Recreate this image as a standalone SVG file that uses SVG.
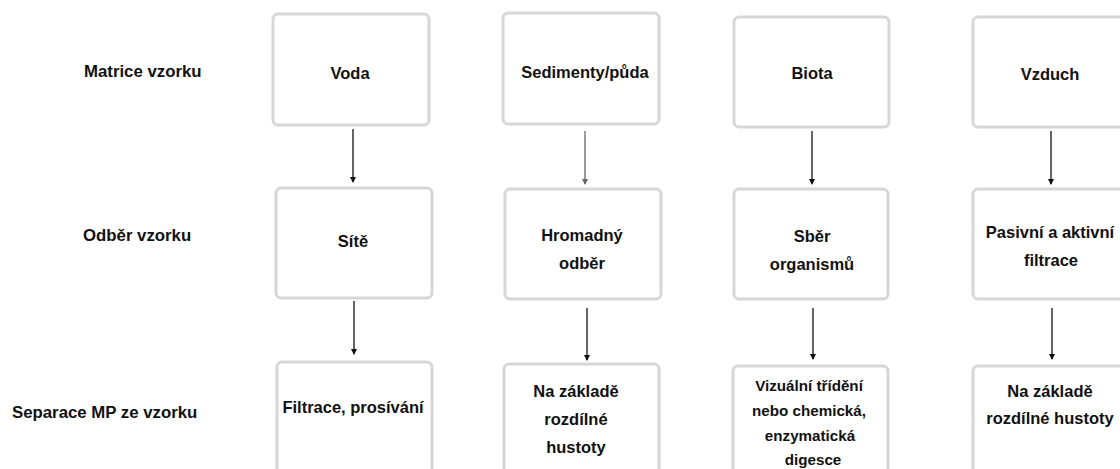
<svg xmlns="http://www.w3.org/2000/svg" width="1120" height="469" viewBox="0 0 1120 469">
<style>
.box{fill:#fff;stroke:#d7d7d7;stroke-width:3}
.t{font-family:"Liberation Sans",Arial,sans-serif;font-weight:bold;font-size:16.5px;fill:#111;text-anchor:middle}
.s{font-size:15.2px}
.lab{font-family:"Liberation Sans",Arial,sans-serif;font-weight:bold;font-size:16.8px;fill:#111}
.c{stroke:#111;stroke-width:1.3;fill:none;marker-end:url(#ah)}
.g{stroke:#666;marker-end:url(#ahg)}
</style>
<defs>
<marker id="ah" markerWidth="6" markerHeight="6" refX="5" refY="3" orient="auto" markerUnits="userSpaceOnUse"><path d="M0,0 L6,3 L0,6 Z" fill="#111"/></marker>
<marker id="ahg" markerWidth="6" markerHeight="6" refX="5" refY="3" orient="auto" markerUnits="userSpaceOnUse"><path d="M0,0 L6,3 L0,6 Z" fill="#666"/></marker>
</defs>
<rect width="1120" height="469" fill="#fff"/>
<g id="row-labels">
<text class="lab" x="84" y="77">Matrice vzorku</text>
<text class="lab" x="83" y="241">Odběr vzorku</text>
<text class="lab" x="12" y="418">Separace MP ze vzorku</text>
</g>
<g id="voda"><rect class="box" x="273" y="14" width="156" height="111" rx="5"/><text class="t" x="350" y="79">Voda</text></g>
<g id="sedimenty"><rect class="box" x="503" y="13" width="156" height="111" rx="5"/><text class="t" x="585" y="78">Sedimenty/půda</text></g>
<g id="biota"><rect class="box" x="734" y="17" width="155" height="110" rx="5"/><text class="t" x="812" y="79">Biota</text></g>
<g id="vzduch"><rect class="box" x="973" y="17" width="155" height="110" rx="5"/><text class="t" x="1050" y="80">Vzduch</text></g>
<g id="site"><rect class="box" x="276" y="188" width="156" height="110" rx="5"/><text class="t" x="353" y="247">Sítě</text></g>
<g id="hromadny"><rect class="box" x="505" y="189" width="156" height="110" rx="5"/><text class="t" x="582" y="241">Hromadný</text><text class="t" x="582" y="269">odběr</text></g>
<g id="sber"><rect class="box" x="734" y="189" width="154" height="110" rx="5"/><text class="t" x="812" y="242">Sběr</text><text class="t" x="812" y="270">organismů</text></g>
<g id="pasivni"><rect class="box" x="973" y="189" width="155" height="110" rx="5"/><text class="t" x="1050" y="238">Pasivní a aktivní</text><text class="t" x="1051" y="266">filtrace</text></g>
<g id="filtrace"><rect class="box" x="277" y="362" width="155" height="120" rx="5"/><text class="t" x="353" y="413">Filtrace, prosívání</text></g>
<g id="hustota1"><rect class="box" x="504" y="364" width="155" height="120" rx="5"/><text class="t" x="576" y="397">Na základě</text><text class="t" x="576" y="425">rozdílné</text><text class="t" x="576" y="453">hustoty</text></g>
<g id="vizualni"><rect class="box" x="733" y="366" width="155" height="120" rx="5"/><text class="t s" x="809" y="391">Vizuální třídění</text><text class="t s" x="809" y="416">nebo chemická,</text><text class="t s" x="810" y="441">enzymatická</text><text class="t s" x="813" y="465">digesce</text></g>
<g id="hustota2"><rect class="box" x="973" y="366" width="155" height="120" rx="5"/><text class="t" x="1050" y="397">Na základě</text><text class="t" x="1050" y="424">rozdílné hustoty</text></g>
<g id="connectors">
<line class="c" x1="353" y1="129" x2="353" y2="182"/>
<line class="c g" x1="585" y1="131" x2="585" y2="184"/>
<line class="c" x1="812" y1="131" x2="812" y2="184"/>
<line class="c" x1="1051" y1="131" x2="1051" y2="184"/>
<line class="c" x1="354" y1="301" x2="354" y2="354"/>
<line class="c" x1="587" y1="308" x2="587" y2="360"/>
<line class="c" x1="813" y1="308" x2="813" y2="359"/>
<line class="c" x1="1052" y1="308" x2="1052" y2="359"/>
</g>
</svg>
